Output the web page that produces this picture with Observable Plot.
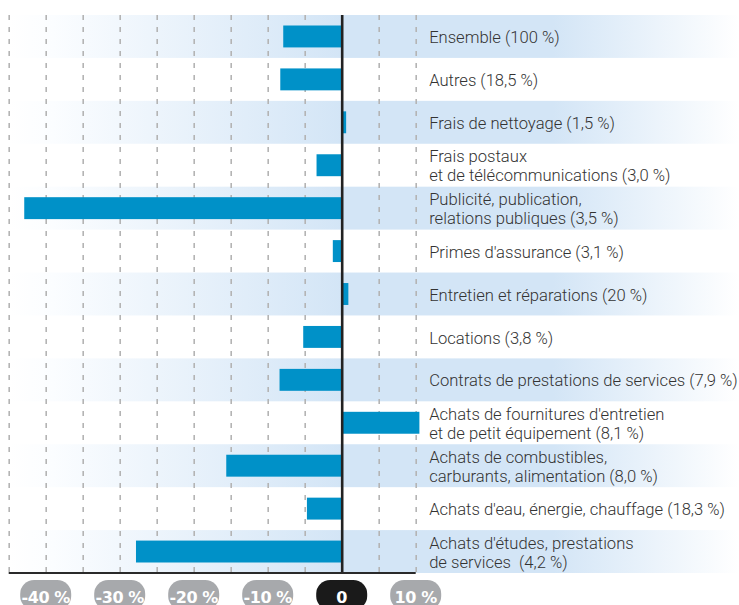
<!DOCTYPE html>
<html>
<head>
<meta charset="utf-8">
<script src="https://cdn.jsdelivr.net/npm/d3@7"></script>
<script src="https://cdn.jsdelivr.net/npm/@observablehq/plot@0.6"></script>
<style>
  html, body { margin: 0; padding: 0; background: #fff; }
  svg { display: block; }
</style>
</head>
<body>
<div id="chart"></div>
<script>
const categories = [
  "Ensemble (100 %)",
  "Autres (18,5 %)",
  "Frais de nettoyage (1,5 %)",
  "Frais postaux\net de télécommunications (3,0 %)",
  "Publicité, publication,\nrelations publiques (3,5 %)",
  "Primes d'assurance (3,1 %)",
  "Entretien et réparations (20 %)",
  "Locations (3,8 %)",
  "Contrats de prestations de services (7,9 %)",
  "Achats de fournitures d'entretien\net de petit équipement (8,1 %)",
  "Achats de combustibles,\ncarburants, alimentation (8,0 %)",
  "Achats d'eau, énergie, chauffage (18,3 %)",
  "Achats d'études, prestations\nde services  (4,2 %)"
];
const values = [-7.9, -8.3, 0.6, -3.4, -42.9, -1.2, 0.9, -5.2, -8.4, 10.5, -15.6, -4.7, -27.8];
const tickValues = [-40, -30, -20, -10, 0, 10];
const tickLabels = ["-40 %", "-30 %", "-20 %", "-10 %", "0", "10 %"];
const gridValues = [-45, -40, -35, -30, -25, -20, -15, -10, -5, 5, 10];

const data = categories.map((c, i) => ({category: c, value: values[i], band: i % 2 === 0}));
const bandRows = data.filter(d => d.band);
const ticks = tickValues.map((v, i) => ({value: v, label: tickLabels[i]}));

const defsMark = () => {
  const g = d3.create("svg:g");
  const grad = g.append("defs").append("linearGradient")
    .attr("id", "rowGrad").attr("gradientUnits", "userSpaceOnUse")
    .attr("x1", 9).attr("x2", 739).attr("y1", 0).attr("y2", 0);
  [[0, "#ffffff"], [0.06, "#fbfdff"], [0.456, "#d3e5f6"], [0.745, "#d3e5f6"], [1, "#ffffff"]]
    .forEach(([o, c]) => grad.append("stop").attr("offset", o).attr("stop-color", c));
  return g.node();
};

const pillsMark = (index, scales, values, dimensions) => {
  const g = d3.create("svg:g");
  const x = scales.x;
  const yb = dimensions.height - dimensions.marginBottom;
  g.append("line")
    .attr("x1", x(-45)).attr("x2", x(10))
    .attr("y1", yb).attr("y2", yb)
    .attr("stroke", "#2a2a2a").attr("stroke-width", 2.2);
  for (const t of ticks) {
    const cx = x(t.value);
    const isZero = t.value === 0;
    g.append("rect")
      .attr("x", cx - 25.5).attr("y", yb + 7)
      .attr("width", 51).attr("height", 30)
      .attr("rx", 14).attr("ry", 14)
      .attr("fill", isZero ? "#1a1a1a" : "#a7a9ac");
    g.append("text")
      .attr("x", cx).attr("y", yb + 29.5)
      .attr("text-anchor", "middle")
      .attr("fill", "#ffffff")
      .attr("font-family", "'DejaVu Sans', sans-serif")
      .attr("font-weight", 700)
      .attr("font-size", 16)
      .attr("letter-spacing", -0.4)
      .text(t.label);
  }
  return g.node();
};

const chart = Plot.plot({
  width: 739,
  height: 605,
  marginTop: 15,
  marginBottom: 32,
  marginLeft: 8.7,
  marginRight: 0,
  x: {domain: [-45, 53.69], axis: null},
  y: {type: "band", domain: categories, padding: 0, round: false, axis: null},
  style: {background: "#ffffff"},
  marks: [
    defsMark,
    Plot.barX(bandRows, {y: "category", x1: -45, x2: 53.69, fill: "url(#rowGrad)"}),
    Plot.ruleX(gridValues, {stroke: "#b4b4b4", strokeWidth: 1.6, strokeDasharray: "5,7"}),
    Plot.barX(data, {y: "category", x1: 0, x2: "value", fill: "#0091c8", insetTop: 10.5, insetBottom: 10.5}),
    Plot.ruleX([0], {stroke: "#222222", strokeWidth: 2.6}),
    Plot.text(data, {
      y: "category", x: 11.75, text: "category",
      textAnchor: "start", lineAnchor: "middle", lineHeight: 1.15,
      fontFamily: "Roboto, sans-serif", fontWeight: 300, fontSize: 16.6,
      fill: "#333333"
    }),
    pillsMark
  ]
});
document.getElementById("chart").appendChild(chart);
</script>
</body>
</html>
